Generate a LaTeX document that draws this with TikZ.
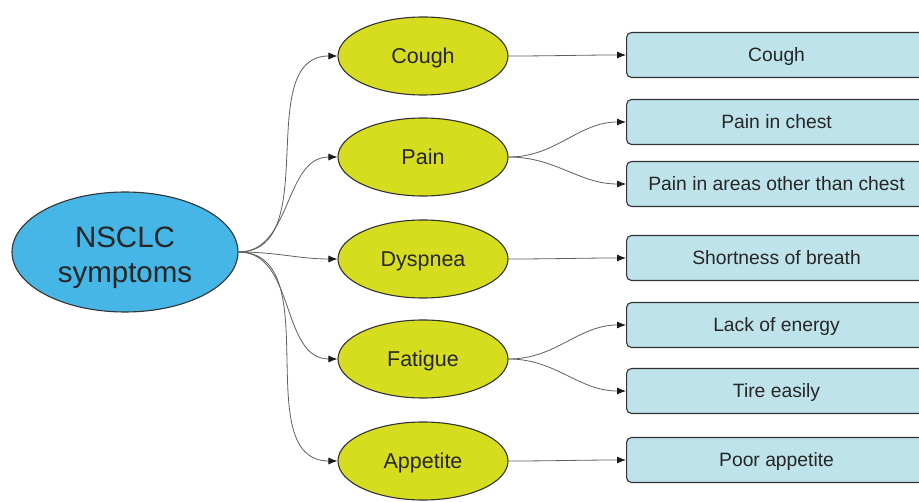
\documentclass[tikz,border=0pt]{standalone}
\usepackage{fontspec}
\setmainfont{Liberation Sans}
\usetikzlibrary{arrows.meta,shapes.geometric}
\definecolor{rootblue}{HTML}{45B6E6}
\definecolor{lime}{HTML}{D6DC1E}
\definecolor{boxblue}{HTML}{BEE3EA}
\definecolor{edge}{HTML}{333333}
\definecolor{wire}{HTML}{606060}
\tikzset{
  rootnode/.style={ellipse, draw=edge, line width=1.1pt, fill=rootblue, minimum width=226pt, minimum height=120pt, inner sep=0pt, align=center, font=\fontsize{29.5}{35}\selectfont, text=black!85},
  catnode/.style={ellipse, draw=edge, line width=1.1pt, fill=lime, minimum width=170pt, minimum height=78pt, inner sep=0pt, text height=17.4pt, text depth=2pt, font=\fontsize{21.5}{24}\selectfont, text=black!85},
  itembox/.style={rectangle, rounded corners=5pt, draw=edge, line width=1.1pt, fill=boxblue, minimum width=300pt, minimum height=45pt, inner sep=0pt, text height=15.9pt, text depth=2pt, font=\fontsize{19.3}{22}\selectfont, text=black!85},
  link/.style={draw=wire, line width=0.8pt, -{Latex[length=9pt,width=7pt,color=black!90]}, out=0, in=180}
}
\begin{document}
\begin{tikzpicture}[x=1pt,y=-1pt]
\clip (0,0) rectangle (919,502);
\fill[white] (0,0) rectangle (919,502);
\node[rootnode] (root) at (125,252) {\raisebox{-12.4pt}[0pt][0pt]{\begin{tabular}{@{}c@{}}NSCLC\\symptoms\end{tabular}}};
\node[catnode] (c1) at (423,56) {Cough};
\node[catnode] (c2) at (423,157) {Pain};
\node[catnode] (c3) at (423,259) {Dyspnea};
\node[catnode] (c4) at (423,359) {Fatigue};
\node[catnode] (c5) at (423,461) {Appetite};
\node[itembox, anchor=west] (b1) at (626,55) {Cough};
\node[itembox, anchor=west] (b2) at (626,122) {Pain in chest};
\node[itembox, anchor=west] (b3) at (626,184) {Pain in areas other than chest};
\node[itembox, anchor=west] (b4) at (626,258) {Shortness of breath};
\node[itembox, anchor=west] (b5) at (626,325) {Lack of energy};
\node[itembox, anchor=west] (b6) at (626,391) {Tire easily};
\node[itembox, anchor=west] (b7) at (626,460) {Poor appetite};
\foreach \c in {c1,c2,c3,c4,c5}{
  \draw[link] (root.east) to (\c.west);
}
\draw[link] (c1.east) to (b1.west);
\draw[link] (c2.east) to (b2.west);
\draw[link] (c2.east) to (b3.west);
\draw[link] (c3.east) to (b4.west);
\draw[link] (c4.east) to (b5.west);
\draw[link] (c4.east) to (b6.west);
\draw[link] (c5.east) to (b7.west);
\end{tikzpicture}
\end{document}
